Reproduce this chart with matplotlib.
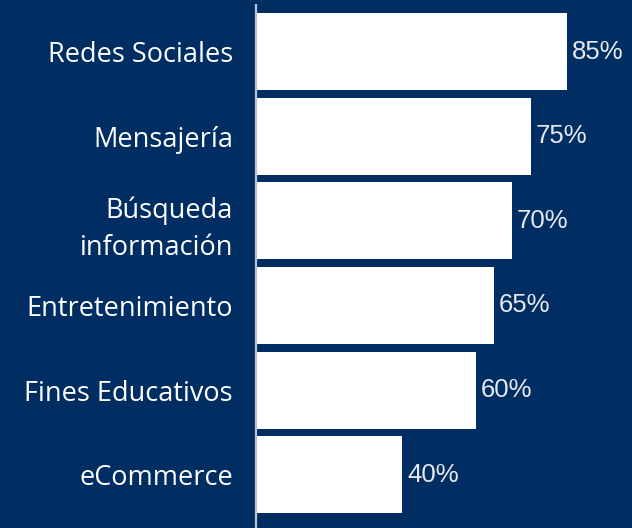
import matplotlib.pyplot as plt

categories = ['Redes Sociales', 'Mensajería', 'Búsqueda\ninformación',
              'Entretenimiento', 'Fines Educativos', 'eCommerce']
values = [85, 75, 70, 65, 60, 40]

bg = '#002d62'

fig = plt.figure(figsize=(6.32, 5.28), dpi=100, facecolor=bg)
ax = fig.add_axes([256 / 632, 0, 1 - 256 / 632, 523 / 528])
ax.set_facecolor(bg)

ypos = list(range(len(categories)))
ax.barh(ypos, values, height=0.91, color='white')

for y, v in zip(ypos, values):
    ax.text(v + 1.3, y, f'{v}%', va='center', ha='left', color='#e6e9ee',
            fontsize=18.5, family='Liberation Sans')

ax.set_xlim(0, 102.7)
ax.set_ylim(5.63, -0.55)
ax.set_yticks(ypos)
ax.set_yticklabels(categories, color='white', fontsize=19.5, family='Open Sans',
                   linespacing=1.45)
ax.tick_params(axis='y', length=0, pad=16.5)
ax.set_xticks([])

for s in ['top', 'right', 'bottom']:
    ax.spines[s].set_visible(False)
ax.spines['left'].set_color('#b8c3d2')
ax.spines['left'].set_linewidth(1.6)

fig.savefig('out.png', dpi=100, facecolor=bg)
